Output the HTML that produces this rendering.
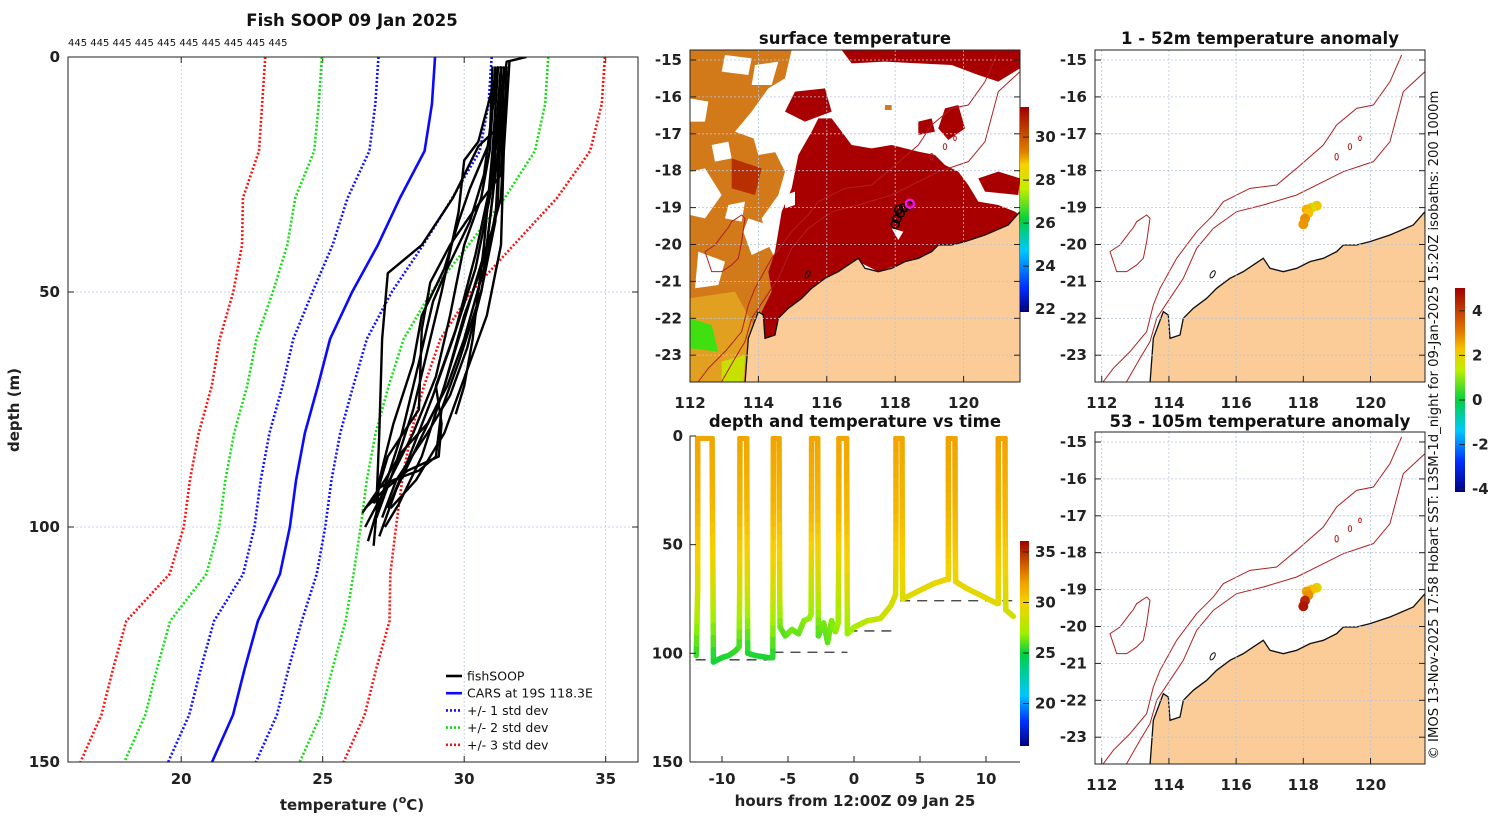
<!DOCTYPE html>
<html><head><meta charset="utf-8"><style>
html,body{margin:0;padding:0;background:#fff;}
svg{display:block;font-family:"DejaVu Sans","Liberation Sans",sans-serif;}
.t{font-weight:bold;font-size:15px;fill:#222;}
.ti{font-weight:bold;font-size:16.5px;fill:#111;}
</style></head><body>
<svg id="fig" width="1500" height="820" viewBox="0 0 1500 820" xmlns="http://www.w3.org/2000/svg">
<defs>
<clipPath id="c2"><rect x="690" y="50" width="330" height="332"/></clipPath>
<clipPath id="c4"><rect x="1095" y="50" width="330" height="332"/></clipPath>
<clipPath id="c5"><rect x="1095" y="432" width="330" height="332"/></clipPath>
<clipPath id="c1"><rect x="68" y="57" width="570" height="705"/></clipPath>
<clipPath id="c3"><rect x="690" y="436" width="330" height="326"/></clipPath>
<linearGradient id="gSST" x1="0" y1="1" x2="0" y2="0">
<stop offset="0" stop-color="#000080"/><stop offset="0.12" stop-color="#0030ff"/><stop offset="0.3" stop-color="#00c8ff"/><stop offset="0.45" stop-color="#00d040"/><stop offset="0.6" stop-color="#c0f000"/><stop offset="0.72" stop-color="#f8d000"/><stop offset="0.78" stop-color="#e08000"/><stop offset="1" stop-color="#a00000"/></linearGradient>
<linearGradient id="gT" x1="0" y1="1" x2="0" y2="0">
<stop offset="0" stop-color="#000080"/><stop offset="0.12" stop-color="#0030ff"/><stop offset="0.25" stop-color="#00c8ff"/><stop offset="0.45" stop-color="#00d040"/><stop offset="0.55" stop-color="#a0f000"/><stop offset="0.7" stop-color="#f8d000"/><stop offset="0.8" stop-color="#f0a000"/><stop offset="1" stop-color="#a00000"/></linearGradient>
<linearGradient id="gA" x1="0" y1="1" x2="0" y2="0">
<stop offset="0" stop-color="#000080"/><stop offset="0.15" stop-color="#0030ff"/><stop offset="0.3" stop-color="#00c8ff"/><stop offset="0.45" stop-color="#00d040"/><stop offset="0.6" stop-color="#c0f000"/><stop offset="0.7" stop-color="#f8c000"/><stop offset="0.8" stop-color="#e07000"/><stop offset="1" stop-color="#a00000"/></linearGradient>
</defs>

<text class="ti" x="352" y="26" text-anchor="middle">Fish SOOP 09 Jan 2025</text>
<text x="68" y="46" font-size="10" fill="#111">445 445 445 445 445 445 445 445 445 445</text>
<text class="ti" x="855" y="44" text-anchor="middle">surface temperature</text>
<text class="ti" x="855" y="427" text-anchor="middle">depth and temperature vs time</text>
<text class="ti" x="1260" y="44" text-anchor="middle">1 - 52m temperature anomaly</text>
<text class="ti" x="1260" y="427" text-anchor="middle">53 - 105m temperature anomaly</text>
<text class="t" x="0" y="0" transform="translate(19,410) rotate(-90)" text-anchor="middle" font-size="16">depth (m)</text>
<text class="t" x="352" y="810" text-anchor="middle" font-size="16">temperature (<tspan font-size="11" dy="-7">o</tspan><tspan dy="7">C)</tspan></text>
<text class="t" x="855" y="806" text-anchor="middle" font-size="16">hours from 12:00Z 09 Jan 25</text>
<text x="0" y="0" transform="translate(1438,425) rotate(-90)" text-anchor="middle" font-size="13.2" fill="#111">© IMOS 13-Nov-2025 17:58 Hobart SST: L3SM-1d_night for 09-Jan-2025 15:20Z isobaths: 200  1000m</text>

<g id="p1"></g>
<g id="p2"></g>
<g id="p3"></g>
<g id="p4"></g>
<g id="p5"></g>
</svg>
<script>
const carsDepths=[0,10,20,30,40,50,60,70,80,90,100,110,120,130,140,150];
const carsMean=[28.97,28.86,28.6,27.73,26.95,26.04,25.26,24.83,24.37,24.06,23.84,23.49,22.71,22.25,21.83,21.09];
const carsStd=[2.0,2.0,1.95,1.85,1.6,1.4,1.3,1.25,1.25,1.25,1.25,1.3,1.55,1.55,1.55,1.55];
const fishProfiles=[
[[31.3,2],[31.2,15],[30.5,19],[29.6,30],[28.5,40],[27.3,46],[27.1,60],[27.0,80],[26.9,95]],
[[31.4,2],[31.3,25],[30.3,33],[29.5,40],[28.8,48],[28.5,58],[28.4,75],[27.3,85],[26.8,95]],
[[31.2,2],[31.0,20],[30.7,40],[30.3,60],[30.0,70],[29.7,76]],
[[31.3,2],[31.2,30],[30.6,50],[29.8,65],[29.2,75],[29.0,85],[28.4,88],[27.5,90],[26.9,92]],
[[31.5,2],[31.3,30],[30.6,45],[30.0,55],[29.3,70],[28.5,85],[27.7,95],[27.2,100]],
[[31.1,2],[30.9,20],[30.6,30],[30.0,40],[29.5,55],[29.0,68],[28.2,80],[27.2,92],[26.5,100]],
[[31.6,1],[31.4,20],[31.3,40],[30.8,55],[30.2,65],[29.3,80],[28.3,90],[27.4,96]],
[[31.2,2],[30.7,25],[30.2,35],[29.4,45],[28.9,52],[28.4,65],[27.8,80],[27.0,95],[26.6,103]],
[[31.3,2],[31.0,30],[30.7,45],[30.0,60],[29.4,70],[28.7,78],[27.8,84],[27.2,90],[26.4,97]],
[[31.0,2],[30.9,18],[30.2,28],[29.8,35],[29.3,45],[28.5,55],[28.2,65],[27.5,78],[27.0,90],[26.8,104]],
[[31.4,2],[31.1,35],[30.6,50],[30.1,62],[29.5,72],[28.7,80],[27.6,90],[27.1,98]],
[[31.3,2],[31.2,20],[30.8,40],[30.2,52],[29.7,62],[29.2,72],[28.4,82],[27.6,92],[27.0,102]],
[[32.2,0],[31.5,1],[31.3,10],[30.9,30],[30.4,45],[29.6,60],[28.9,72],[28.0,86],[27.3,96]],
[[31.2,2],[30.5,18],[30.0,22],[29.8,33],[29.2,50],[28.8,60],[28.2,75],[27.5,88],[26.9,98]],
[[31.3,2],[31.0,25],[30.4,42],[29.7,58],[29.0,70],[29.2,78],[29.1,85],[28.0,88],[27.2,92],[26.5,96]]
];
const tempTicks=[20,25,30,35];
const depthTicks=[0,50,100,150];
const tsHours=[-11.95,-11.84,-11.84,-11.84,-10.75,-10.72,-10.68,-10.65,-10,-9.5,-9,-8.7,-8.66,-8.65,-8.64,-8.13,-8.11,-8.08,-8.05,-7.5,-6.5,-6.15,-6.13,-6.12,-6.11,-5.68,-5.66,-5.63,-5.6,-5.2,-4.7,-4.2,-3.8,-3.4,-3.25,-3.23,-3.22,-3.21,-2.75,-2.74,-2.72,-2.7,-2.3,-2.0,-1.7,-1.4,-1.2,-1.16,-1.15,-1.14,-0.56,-0.54,-0.52,-0.5,0,1,2,2.8,3.15,3.17,3.18,3.18,3.64,3.65,3.66,3.7,5,6,7,7.15,7.15,7.15,7.15,7.65,7.66,7.67,7.7,8.5,9.5,10.8,10.93,10.93,10.93,10.93,11.44,11.45,11.47,11.5,12.07];
const tsDepths=[101,70,35,1,1,35,70,104,102,101,99,97,70,35,1,1,35,70,100,101,102,102,70,35,1,1,35,70,88,92,89,91,85,84,82,60,35,1,1,35,70,92,86,95,85,90,86,60,35,1,1,35,70,91,88,85,84,78,73,60,35,1,1,35,60,75,71,68,66,66,50,30,1,1,30,50,67,70,73,77,77,50,30,1,1,35,60,80,83];
const tsTemps=[25.5,28.5,30.5,31.3,31.3,30.5,28.5,25.2,25.3,25.4,25.6,25.7,28.5,30.5,31.3,31.3,30.5,28.5,25.4,25.4,25.3,25.3,28.5,30.5,31.3,31.3,30.5,28.5,26.4,26.0,26.5,26.2,26.6,26.8,26.8,28.6,30.5,31.3,31.3,30.5,28.3,25.9,26.5,26.1,26.6,26.7,26.9,28.6,30.5,31.3,31.3,30.5,28.8,26.8,27.2,27.7,28.1,28.5,28.6,29.0,30.5,31.3,31.3,30.5,29.4,28.8,28.9,29.0,29.1,29.1,30.0,30.8,31.4,31.4,30.8,30.0,29.1,29.0,28.9,28.8,28.8,30.0,30.8,31.4,31.4,30.5,29.4,28.5,28.4];
const dashStart=[-12.0,-6.1,-0.5,3.5];
const dashEnd=[-6.2,-0.5,3.2,12.0];
const dashDepth=[103,99.5,89.7,75.8];
const hourTicks=[-10,-5,0,5,10];
const lonTicks=[112,114,116,118,120];
const latTicks=[-15,-16,-17,-18,-19,-20,-21,-22,-23];
const sstTicks=[22,24,26,28,30];
const tsCbTicks=[20,25,30,35];
const anomTicks=[-4,-2,0,2,4];
const fishLon=[118.4,118.25,118.1,118.15,118.05,118.0];
const fishLat=[-18.95,-19.0,-19.05,-19.15,-19.3,-19.45];
const anomUpper=[1.9,1.6,2.2,2.0,2.6,2.5];
const anomLower=[1.7,2.0,2.4,2.6,4.3,4.6];

const NS='http://www.w3.org/2000/svg';
function mk(tag,attrs,parent){const e=document.createElementNS(NS,tag);for(const k in attrs)e.setAttribute(k,attrs[k]);parent.appendChild(e);return e;}
function cmap(t,stops){
  if(t<=stops[0][0])return stops[0][1];
  for(let i=1;i<stops.length;i++){if(t<=stops[i][0]){const a=stops[i-1],b=stops[i];const f=(t-a[0])/(b[0]-a[0]);
    const ca=a[1].match(/\w\w/g).map(h=>parseInt(h,16)),cb=b[1].match(/\w\w/g).map(h=>parseInt(h,16));
    return 'rgb('+ca.map((v,j)=>Math.round(v+(cb[j]-v)*f)).join(',')+')';}}
  return stops[stops.length-1][1];}
const tStops=[[16,'#000080'],[18,'#0030ff'],[21,'#00c8ff'],[25,'#00d040'],[27,'#a0f000'],[29.5,'#f8d000'],[31.5,'#f0a000'],[36,'#a00000']];
const aStops=[[-4.5,'#000080'],[-3,'#0030ff'],[-1.5,'#00c8ff'],[0,'#00d040'],[1.2,'#c0f000'],[2,'#f8c000'],[3,'#e07000'],[5,'#a00000']];

const p1=document.getElementById('p1');
const X1=t=>68+(t-16)*28.3, Y1=d=>57+d*4.7;
mk('rect',{x:68,y:57,width:570,height:705,fill:'#fff'},p1);
tempTicks.forEach(t=>{const g=mk('line',{x1:X1(t),x2:X1(t),y1:57,y2:762,stroke:'#b8c4dc','stroke-width':0.8,'stroke-dasharray':'2,2'},p1);
  
  
  const tx=mk('text',{x:X1(t),y:784,'text-anchor':'middle',class:'t'},p1);tx.textContent=t;
  
  
  mk('line',{x1:X1(t),x2:X1(t),y1:762,y2:756,stroke:'#222'},p1);mk('line',{x1:X1(t),x2:X1(t),y1:57,y2:63,stroke:'#222'},p1);});
depthTicks.forEach(d=>{if(d>0&&d<150){const g=mk('line',{x1:68,x2:638,y1:Y1(d),y2:Y1(d),stroke:'#b8c4dc','stroke-width':0.8,'stroke-dasharray':'2,2'},p1);
  
  }
  const tx=mk('text',{x:60,y:Y1(d)+5,'text-anchor':'end',class:'t'},p1);tx.textContent=d;
  
  
  mk('line',{x1:68,x2:74,y1:Y1(d),y2:Y1(d),stroke:'#222'},p1);mk('line',{x1:632,x2:638,y1:Y1(d),y2:Y1(d),stroke:'#222'},p1);});
const g1=mk('g',{'clip-path':'url(#c1)'},p1);
const sdStyles=[[3,'#ff1010'],[2,'#10e010'],[1,'#1010ff']];
sdStyles.forEach(([k,col])=>{[-1,1].forEach(s=>{
  const pts=carsDepths.map((d,i)=>X1(carsMean[i]+s*k*carsStd[i])+','+Y1(d)).join(' ');
  const pl=mk('polyline',{points:pts,fill:'none',stroke:col,'stroke-width':2.6,'stroke-dasharray':'2,2'},g1);
  
  });});
const mean=mk('polyline',{points:carsDepths.map((d,i)=>X1(carsMean[i])+','+Y1(d)).join(' '),fill:'none',stroke:'#0a0aff','stroke-width':2.6},g1);


fishProfiles.forEach((p,i)=>{const pl=mk('polyline',{points:p.map(q=>X1(q[0])+','+Y1(q[1])).join(' '),fill:'none',stroke:'#000','stroke-width':2.4,'stroke-linejoin':'round'},g1);
  
  });
mk('rect',{x:68,y:57,width:570,height:705,fill:'none',stroke:'#222','stroke-width':1},p1);
const lg=mk('g',{},p1);


const legItems=[['fishSOOP','#000',''],['CARS at 19S 118.3E','#0a0aff',''],['+/- 1 std dev','#1010ff','2,2'],['+/- 2 std dev','#10e010','2,2'],['+/- 3 std dev','#ff1010','2,2']];
legItems.forEach((it,i)=>{const y=676+i*17.2;
  const ln=mk('line',{x1:446,x2:462,y1:y,y2:y,stroke:it[1],'stroke-width':2.6},lg);if(it[2])ln.setAttribute('stroke-dasharray',it[2]);
  const tx=mk('text',{x:467,y:y+4.5,'font-size':12.5,fill:'#111'},lg);tx.textContent=it[0];
  
  });

const coastZ=[[1005,500],[970,540],[900,570],[840,590],[800,600],[760,600],[740,620],[700,640],[660,650],[620,670],[580,680],[540,670],[520,640],[490,660],[460,680],[420,700],[380,730],[350,760],[310,790],[280,820],[270,870],[240,880],[235,810],[220,800],[190,880],[180,1015],[1010,1015]];
const iso200Z=[[1005,80],[940,140],[900,290],[850,350],[760,380],[700,410],[620,450],[520,480],[440,500],[370,550],[320,610],[280,700],[240,760],[200,820],[180,890],[150,940],[110,1010]];
const iso1000Z=[[935,30],[900,110],[850,180],[800,190],[740,240],[700,300],[620,370],[560,420],[480,430],[400,470],[370,510],[320,560],[260,640],[210,730],[190,780],[170,860],[120,920],[70,970],[40,1010]];
const islandZ=[[60,620],[90,600],[120,560],[130,548],[140,530],[170,510],[180,520],[170,590],[160,640],[140,660],[110,680],[80,680],[70,650]];
const P=a=>a.map(q=>q.join(',')).join(' ');
function mapAxes(parent,x0,top,lat15,pxLon,lon0,xlabY){
  const X=l=>x0+(l-lon0)*pxLon, Y=la=>lat15+(-15-la)*36.9;
  lonTicks.forEach(l=>{const gl=mk('line',{x1:X(l),x2:X(l),y1:top,y2:top+332,stroke:'#b8c4dc','stroke-width':0.8,'stroke-dasharray':'2,2'},parent);
    
    
    mk('line',{x1:X(l),x2:X(l),y1:top+332,y2:top+326,stroke:'#222'},parent);
    const tx=mk('text',{x:X(l),y:xlabY,'text-anchor':'middle',class:'t'},parent);tx.textContent=l;
    
    });
  latTicks.forEach(la=>{const gl=mk('line',{x1:x0,x2:x0+330,y1:Y(la),y2:Y(la),stroke:'#b8c4dc','stroke-width':0.8,'stroke-dasharray':'2,2'},parent);
    
    
    mk('line',{x1:x0,x2:x0+6,y1:Y(la),y2:Y(la),stroke:'#222'},parent);
    mk('line',{x1:x0+324,x2:x0+330,y1:Y(la),y2:Y(la),stroke:'#222'},parent);
    const tx=mk('text',{x:x0-8,y:Y(la)+5,'text-anchor':'end',class:'t'},parent);tx.textContent=la;
    
    });
  mk('rect',{x:x0,y:top,width:330,height:332,fill:'none',stroke:'#222'},parent);
  return [X,Y];}
function drawGeo(g){
  const land=mk('polygon',{points:P(coastZ),fill:'#fccc98',stroke:'#111','stroke-width':4},g);
  
  
  [iso200Z,iso1000Z].forEach((a,i)=>{const pl=mk('polyline',{points:P(a),fill:'none',stroke:'#b02020','stroke-width':3},g);
    
    });
  const isl=mk('polygon',{points:P(islandZ),fill:'none',stroke:'#b02020','stroke-width':3},g);
  
  
  [[740,335,5,10],[780,305,5,9],[810,280,4,7]].forEach(e=>mk('ellipse',{cx:e[0],cy:e[1],rx:e[2],ry:e[3],fill:'none',stroke:'#b02020','stroke-width':3},g));
  mk('ellipse',{cx:368,cy:688,rx:6,ry:12,fill:'none',stroke:'#111','stroke-width':3,transform:'rotate(30 368 688)'},g);}

const p2=document.getElementById('p2');
const g2=mk('g',{'clip-path':'url(#c2)'},p2);
mk('rect',{x:690,y:50,width:330,height:332,fill:'#fff'},g2);
const z2=mk('g',{transform:'translate(685,45) scale(0.3333)'},g2);
const sstShapes=[
 ['#d27a1a','15,15 320,15 300,100 250,130 200,200 150,260 260,300 300,380 280,450 230,520 250,600 280,660 300,700 300,760 250,800 200,900 180,1015 15,1015'],
 ['#fff','15,380 60,370 110,450 60,520 15,510'],['#fff','190,520 250,540 265,600 200,630 175,560'],['#fff','40,620 120,650 100,720 30,730'],
 ['#fff','120,30 200,40 190,90 110,80'],['#fff','15,160 70,170 60,230 15,230'],['#fff','200,260 260,240 280,320 220,330'],
 ['#fff','80,300 130,290 140,340 90,350'],['#fff','130,480 180,470 170,530 120,520'],['#fff','210,60 280,50 260,120 200,120'],
 ['#e2a020','15,760 150,740 210,850 190,1015 15,1015'],['#40e010','15,820 80,840 100,920 15,910'],['#c8e000','110,950 180,930 175,1015 110,1015'],
 ['#a80000','470,15 1005,15 1005,70 940,110 880,90 800,60 700,55 600,50 500,55'],
 ['#a80000','330,140 420,130 440,200 360,230 300,200'],['#a80000','780,190 820,180 840,250 790,285 760,250'],
 ['#a80000','880,400 940,380 1005,400 1000,450 900,440'],['#b83000','140,340 230,370 210,450 140,430'],
 ['#a80000','270,620 290,500 320,430 340,330 380,260 400,220 440,220 470,260 500,300 560,310 620,300 700,320 750,330 780,360 820,380 850,420 880,470 940,480 990,500 1005,510 1005,530 900,590 800,600 740,620 700,640 640,660 580,680 520,650 460,700 400,740 350,780 300,800 270,870 240,880 230,800 260,740 250,680'],
 ['#fff','620,550 655,560 640,585'],['#fff','300,450 330,440 330,480 300,490'],['#fff','520,250 560,260 550,290 510,285'],
 ['#fff','700,110 760,100 760,150 700,160'],['#fff','600,130 650,140 640,180 590,170'],
 ['#a80000','700,230 740,220 750,260 700,270'],['#d27a1a','600,180 620,180 620,195 600,195']];
sstShapes.forEach(s=>{const pg=mk('polygon',{points:s[1],fill:s[0]},z2);
  
  });
drawGeo(z2);
mapAxes(p2,690,50,60,34.2,112,408);
const X2=l=>690+(l-112)*34.2, Y2=la=>60+(-15-la)*36.9;
fishLon.forEach((l,i)=>{const c=mk('circle',{cx:X2(l),cy:Y2(fishLat[i]),r:4,fill:'none',stroke:'#000','stroke-width':1.5},p2);
  
  });
const cur=mk('circle',{cx:X2(fishLon[0])+1,cy:Y2(fishLat[0])-2,r:4,fill:'none',stroke:'#f010f0','stroke-width':2.5},p2);


const cb2=mk('rect',{x:1020,y:107,width:9,height:205,fill:'url(#gSST)'},p2);


sstTicks.forEach(v=>{const y=107+(31.4-v)*21.5;mk('line',{x1:1023,x2:1029,y1:y,y2:y,stroke:'#222'},p2);
  const tx=mk('text',{x:1035,y:y+5,class:'t','font-size':14},p2);tx.textContent=v;
  
  });

function anomMap(id,clip,top,lat15,vals){
  const p=document.getElementById(id);
  const g=mk('g',{'clip-path':'url('+clip+')'},p);
  mk('rect',{x:1095,y:top,width:330,height:332,fill:'#fff'},g);
  const z=mk('g',{transform:'translate(1090,'+(lat15-15)+') scale(0.3333)'},g);
  drawGeo(z);
  const [X,Y]=mapAxes(p,1095,top,lat15,33.6,111.8,top+358);
  fishLon.forEach((l,i)=>{const c=mk('circle',{cx:X(l),cy:Y(fishLat[i]),r:5,fill:cmap(vals[i],aStops)},p);
    
    });
}
anomMap('p4','#c4',50,60,anomUpper);
anomMap('p5','#c5',432,442,anomLower);
const p4=document.getElementById('p4');
const cbA=mk('rect',{x:1455,y:288,width:10,height:204,fill:'url(#gA)'},p4);


anomTicks.forEach(v=>{const y=400-v*22.3;mk('line',{x1:1459,x2:1465,y1:y,y2:y,stroke:'#222'},p4);
  const tx=mk('text',{x:1472,y:y+5,class:'t','font-size':13},p4);tx.textContent=v;
  
  });

const p3=document.getElementById('p3');
const X3=h=>854+h*13.2, Y3=d=>436+d*2.173;
const g3=mk('g',{'clip-path':'url(#c3)'},p3);
for(let i=0;i<dashDepth.length;i++){const l=mk('line',{x1:X3(dashStart[i]),x2:X3(dashEnd[i]),y1:Y3(dashDepth[i]),y2:Y3(dashDepth[i]),stroke:'#333','stroke-width':1.3,'stroke-dasharray':'10,7'},g3);
  
  }
for(let i=0;i<tsHours.length-1;i++){
  const n=6;
  for(let k=0;k<n;k++){const f0=k/n,f1=(k+1)/n;
    const h0=tsHours[i]+(tsHours[i+1]-tsHours[i])*f0,h1=tsHours[i]+(tsHours[i+1]-tsHours[i])*f1;
    const d0=tsDepths[i]+(tsDepths[i+1]-tsDepths[i])*f0,d1=tsDepths[i]+(tsDepths[i+1]-tsDepths[i])*f1;
    const t=tsTemps[i]+(tsTemps[i+1]-tsTemps[i])*(f0+f1)/2;
    mk('line',{x1:X3(h0),y1:Y3(d0),x2:X3(h1),y2:Y3(d1),stroke:cmap(t,tStops),'stroke-width':5.5,'stroke-linecap':'round'},g3);}
}
hourTicks.forEach(h=>{mk('line',{x1:X3(h),x2:X3(h),y1:762,y2:756,stroke:'#222'},p3);
  const tx=mk('text',{x:X3(h),y:784,'text-anchor':'middle',class:'t'},p3);tx.textContent=h;
  
  });
depthTicks.forEach(d=>{mk('line',{x1:690,x2:696,y1:Y3(d),y2:Y3(d),stroke:'#222'},p3);
  const tx=mk('text',{x:683,y:Y3(d)+5,'text-anchor':'end',class:'t'},p3);tx.textContent=d;
  
  });
mk('line',{x1:690,x2:690,y1:436,y2:762,stroke:'#222'},p3);
mk('line',{x1:690,x2:1020,y1:762,y2:762,stroke:'#222'},p3);
const cb3=mk('rect',{x:1020,y:541,width:9,height:205,fill:'url(#gT)'},p3);


tsCbTicks.forEach(v=>{const y=552+(35-v)*10.1;mk('line',{x1:1023,x2:1029,y1:y,y2:y,stroke:'#222'},p3);
  const tx=mk('text',{x:1035,y:y+5,class:'t','font-size':14},p3);tx.textContent=v;
  
  });
</script>
</body></html>
